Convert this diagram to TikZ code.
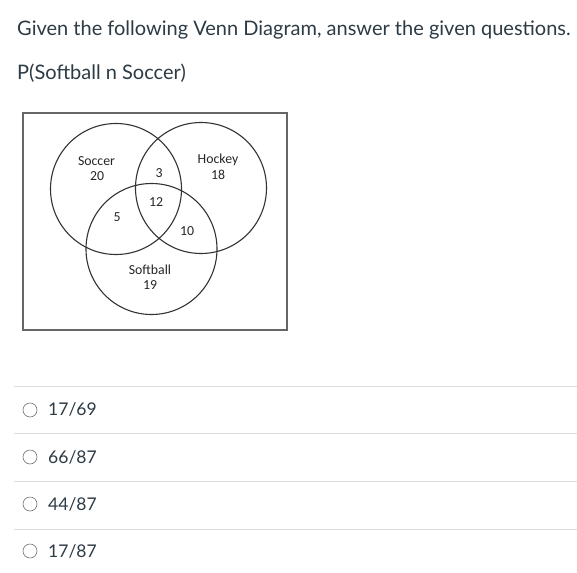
\documentclass[tikz,border=0pt]{standalone}
\usepackage{fontspec}
\setmainfont{Lato}
\newfontfamily\scanfont{Carlito}
\usetikzlibrary{positioning}
\definecolor{textgray}{HTML}{2D3B45}
\definecolor{rulegray}{HTML}{DDDDDD}
\tikzset{
set circle/.style = { circle, draw = black!80, line width = 1.1pt, minimum size = 131pt, inner sep = 0pt },
set label/.style = { font = \scanfont\fontsize{13.8}{16}\selectfont, text = black!85, inner sep = 0pt },
prompt/.style = { anchor = base west, font = \fontsize{20}{24}\selectfont, text = textgray, inner sep = 0pt },
choice/.style = { anchor = base west, font = \fontsize{17.5}{21}\selectfont, text = textgray, inner sep = 0pt },
radio/.style = { circle, draw = black!55, line width = 0.6pt, minimum size = 14pt, inner sep = 0pt },
rule/.style = { draw = rulegray, line width = 0.8pt },
}

\begin{document}
\begin{tikzpicture}[x = 1pt, y = -1pt]
    \useasboundingbox[fill = white] (0, 0) rectangle (577, 572);
    % question
    \node[prompt] (title) at (17, 36) {Given the following Venn Diagram, answer the given questions.};
    \node[prompt] (question) at (17, 80) {P(Softball n Soccer)};
    % venn diagram
    \node[draw = black!60, line width = 1.4pt, minimum width = 264pt, minimum height = 217pt, inner sep = 0pt] (frame) at (155, 221.5) {};
    \node[set circle] (soccer) at (116, 189) {};
    \node[set circle] (hockey) at (201, 188) {};
    \node[set circle] (softball) at (151.5, 249) {};
    \node[set label] (soccer name) at (96.5, 161) {Soccer};
    \node[set label] (soccer only) at (97, 176) {20};
    \node[set label] (hockey name) at (218, 160) {Hockey};
    \node[set label] (hockey only) at (218, 175) {18};
    \node[set label] (soccer hockey) at (159, 173) {3};
    \node[set label] (all three) at (156, 202) {12};
    \node[set label] (soccer softball) at (117, 217) {5};
    \node[set label] (hockey softball) at (187, 231) {10};
    \node[set label] (softball name) at (150, 270) {Softball};
    \node[set label] (softball only) at (150, 285) {19};
    % answer choices
    \foreach \y in {386, 433, 481, 529} {
        \draw[rule] (14, \y) -- (577, \y);
    }
    \node[radio] (radio a) at (30, 410) {};
    \node[radio] (radio b) at (30, 457) {};
    \node[radio] (radio c) at (30, 504) {};
    \node[radio] (radio d) at (30, 551) {};
    \node[choice] (choice a) at (48, 415) {17/69};
    \node[choice] (choice b) at (48, 463) {66/87};
    \node[choice] (choice c) at (48, 510) {44/87};
    \node[choice] (choice d) at (48, 557) {17/87};
\end{tikzpicture}
\end{document}
